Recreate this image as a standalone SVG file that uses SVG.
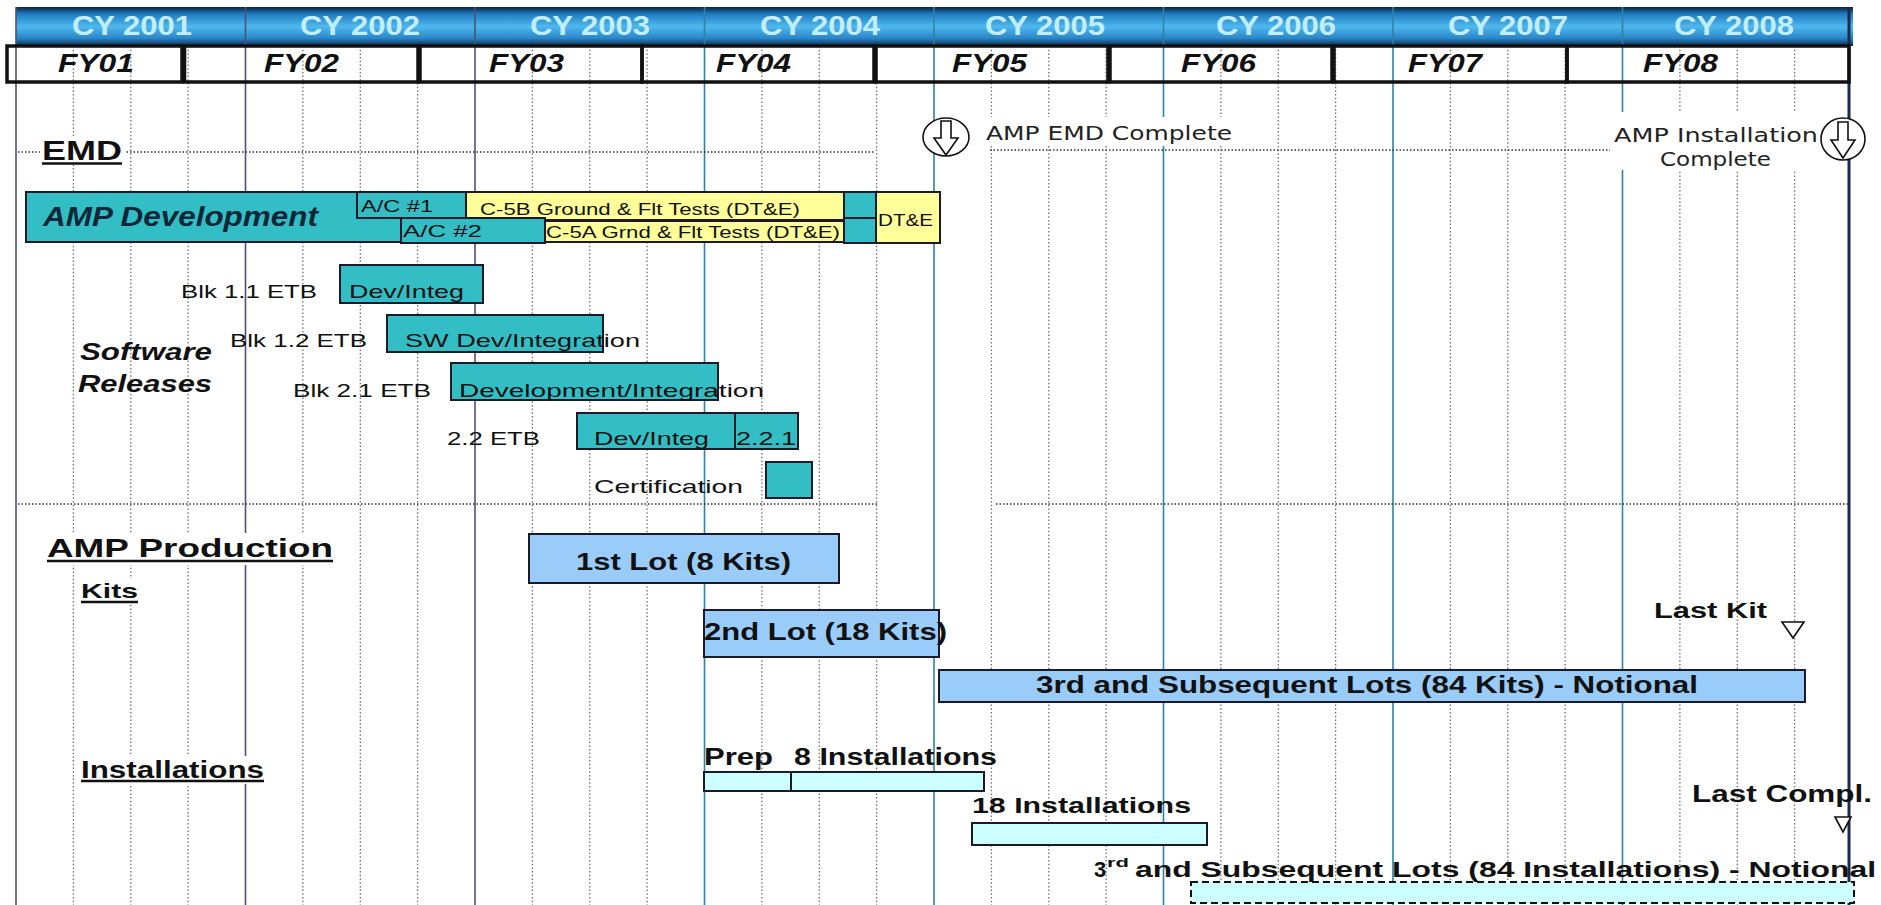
<svg xmlns="http://www.w3.org/2000/svg" width="1881" height="905" viewBox="0 0 1881 905">
<defs>
<linearGradient id="hdr" x1="0" y1="0" x2="0" y2="1">
<stop offset="0" stop-color="#0a2440"/>
<stop offset="0.18" stop-color="#1f7cc0"/>
<stop offset="0.5" stop-color="#4fb8ee"/>
<stop offset="0.8" stop-color="#2a86c8"/>
<stop offset="1" stop-color="#0b2a4e"/>
</linearGradient>
<style>
.cy{font-family:"Liberation Sans",Arial,sans-serif;font-weight:bold;font-size:28px;fill:#c2eefc;text-anchor:middle}
.fy{font-family:"Liberation Sans",Arial,sans-serif;font-weight:bold;font-style:italic;font-size:26px;fill:#111}
.fybox{fill:none;stroke:#111;stroke-width:3.5}
.solA{stroke:#4e5274;stroke-width:1.6}
.solB{stroke:#2a84a6;stroke-width:1.6}
.dot{stroke:#707070;stroke-width:1.3;stroke-dasharray:1.5 2.2}
.hdot{stroke:#333;stroke-width:1.3;stroke-dasharray:1.5 2}
.teal{fill:#33bec5;stroke:#1a1a2a;stroke-width:2}
.yel{fill:#ffff99;stroke:#1a1a2a;stroke-width:2}
.lot{fill:#99ccf8;stroke:#1a1a2a;stroke-width:2}
.ins{fill:#ccffff;stroke:#1a1a2a;stroke-width:2}
.t{font-family:"Liberation Sans",Arial,sans-serif;fill:#111}
.b{font-weight:bold}
.i{font-style:italic}
.ul{stroke:#111;stroke-width:2.5}
.ms{font-family:"DejaVu Sans","Liberation Sans",sans-serif;font-size:19px;fill:#222}
.icon{fill:#fff;stroke:#111;stroke-width:1.6}
.wbg{fill:#fff}
</style>
</defs>
<rect x="0" y="0" width="1881" height="905" fill="#fff"/>

<g id="header">
<rect x="16" y="7" width="1837" height="39" fill="url(#hdr)"/>
</g>

<g id="grid">
<line class="solA" x1="16" y1="7" x2="16" y2="905"/>
<line class="solA" x1="245.5" y1="7" x2="245.5" y2="905"/>
<line class="solA" x1="475" y1="7" x2="475" y2="905"/>
<line class="solB" x1="704.5" y1="7" x2="704.5" y2="905"/>
<line class="solB" x1="934" y1="7" x2="934" y2="905"/>
<line class="solB" x1="1163.5" y1="7" x2="1163.5" y2="905"/>
<line class="solB" x1="1393" y1="7" x2="1393" y2="905"/>
<line class="solB" x1="1622.5" y1="7" x2="1622.5" y2="905"/>
<line stroke="#1a2a50" stroke-width="3" x1="1849" y1="7" x2="1849" y2="905"/>
<g class="dot">
<line x1="73.4" y1="46" x2="73.4" y2="905"/><line x1="130.8" y1="46" x2="130.8" y2="905"/><line x1="188.1" y1="46" x2="188.1" y2="905"/>
<line x1="302.9" y1="46" x2="302.9" y2="905"/><line x1="360.3" y1="46" x2="360.3" y2="905"/><line x1="417.6" y1="46" x2="417.6" y2="905"/>
<line x1="532.4" y1="46" x2="532.4" y2="905"/><line x1="589.8" y1="46" x2="589.8" y2="905"/><line x1="647.1" y1="46" x2="647.1" y2="905"/>
<line x1="761.9" y1="46" x2="761.9" y2="905"/><line x1="819.3" y1="46" x2="819.3" y2="905"/><line x1="876.6" y1="46" x2="876.6" y2="905"/>
<line x1="991.4" y1="46" x2="991.4" y2="905"/><line x1="1048.8" y1="46" x2="1048.8" y2="905"/><line x1="1106.1" y1="46" x2="1106.1" y2="905"/>
<line x1="1220.9" y1="46" x2="1220.9" y2="905"/><line x1="1278.3" y1="46" x2="1278.3" y2="905"/><line x1="1335.6" y1="46" x2="1335.6" y2="905"/>
<line x1="1450.4" y1="46" x2="1450.4" y2="905"/><line x1="1507.8" y1="46" x2="1507.8" y2="905"/><line x1="1565.1" y1="46" x2="1565.1" y2="905"/>
<line x1="1679.9" y1="46" x2="1679.9" y2="905"/><line x1="1737.3" y1="46" x2="1737.3" y2="905"/><line x1="1794.6" y1="46" x2="1794.6" y2="905"/>
</g>
<g class="hdot">
<line x1="18" y1="152" x2="875" y2="152"/>
<line x1="990" y1="150" x2="1610" y2="150"/>
<line x1="18" y1="504" x2="878" y2="504"/>
<line x1="996" y1="504" x2="1848" y2="504"/>
</g>
</g>

<g id="cy-labels">
<text class="cy" x="132" y="35" textLength="120" lengthAdjust="spacingAndGlyphs">CY 2001</text>
<text class="cy" x="360" y="35" textLength="120" lengthAdjust="spacingAndGlyphs">CY 2002</text>
<text class="cy" x="590" y="35" textLength="120" lengthAdjust="spacingAndGlyphs">CY 2003</text>
<text class="cy" x="820" y="35" textLength="120" lengthAdjust="spacingAndGlyphs">CY 2004</text>
<text class="cy" x="1045" y="35" textLength="120" lengthAdjust="spacingAndGlyphs">CY 2005</text>
<text class="cy" x="1276" y="35" textLength="120" lengthAdjust="spacingAndGlyphs">CY 2006</text>
<text class="cy" x="1508" y="35" textLength="120" lengthAdjust="spacingAndGlyphs">CY 2007</text>
<text class="cy" x="1734" y="35" textLength="120" lengthAdjust="spacingAndGlyphs">CY 2008</text>
</g>

<g id="fy-row">
<rect class="fybox" x="7" y="46" width="175" height="36"/>
<rect class="fybox" x="184.5" y="46" width="233.5" height="36"/>
<rect class="fybox" x="420" y="46" width="222" height="36"/>
<rect class="fybox" x="642" y="46" width="232" height="36"/>
<rect class="fybox" x="876" y="46" width="232" height="36"/>
<rect class="fybox" x="1110" y="46" width="222" height="36"/>
<rect class="fybox" x="1334" y="46" width="233" height="36"/>
<rect class="fybox" x="1567" y="46" width="282" height="36"/>
<text class="fy" x="58" y="72" textLength="76" lengthAdjust="spacingAndGlyphs">FY01</text>
<text class="fy" x="264" y="72" textLength="75" lengthAdjust="spacingAndGlyphs">FY02</text>
<text class="fy" x="489" y="72" textLength="75" lengthAdjust="spacingAndGlyphs">FY03</text>
<text class="fy" x="716" y="72" textLength="75" lengthAdjust="spacingAndGlyphs">FY04</text>
<text class="fy" x="952" y="72" textLength="75" lengthAdjust="spacingAndGlyphs">FY05</text>
<text class="fy" x="1181" y="72" textLength="75" lengthAdjust="spacingAndGlyphs">FY06</text>
<text class="fy" x="1408" y="72" textLength="74" lengthAdjust="spacingAndGlyphs">FY07</text>
<text class="fy" x="1643" y="72" textLength="75" lengthAdjust="spacingAndGlyphs">FY08</text>
</g>

<g id="emd-label">
<rect class="wbg" x="40" y="136" width="85" height="29"/>
<text class="t b" x="42" y="160" font-size="28" textLength="80" lengthAdjust="spacingAndGlyphs">EMD</text>
<line class="ul" x1="42" y1="163.5" x2="122" y2="163.5"/>
</g>

<g id="ms-emd">
<rect class="wbg" x="982" y="117" width="256" height="29"/>
<ellipse class="icon" cx="946" cy="137" rx="23" ry="19"/>
<path class="icon" d="M941,121 L951,121 L951,138 L958,138 L946,155 L934,138 L941,138 Z"/>
<text class="ms" x="986" y="140" textLength="246" lengthAdjust="spacingAndGlyphs">AMP EMD Complete</text>
</g>

<g id="ms-install">
<rect class="wbg" x="1610" y="112" width="210" height="58"/>
<ellipse class="icon" cx="1843" cy="139" rx="22" ry="21"/>
<path class="icon" d="M1838,122 L1848,122 L1848,140 L1855,140 L1843,158 L1831,140 L1838,140 Z"/>
<text class="ms" x="1614" y="142" textLength="204" lengthAdjust="spacingAndGlyphs">AMP Installation</text>
<text class="ms" x="1660" y="166" textLength="111" lengthAdjust="spacingAndGlyphs">Complete</text>
</g>

<g id="amp-development">
<rect class="teal" x="26" y="192" width="850" height="50"/>
<text class="t b i" x="43" y="226" font-size="27" fill="#0c2838" textLength="275" lengthAdjust="spacingAndGlyphs" style="fill:#0c2838">AMP Development</text>
</g>
<g id="ac1">
<rect class="teal" x="357" y="192" width="109" height="26"/>
<text class="t" x="361" y="212" font-size="17" textLength="72" lengthAdjust="spacingAndGlyphs">A/C #1</text>
</g>
<g id="c5b-tests">
<rect class="yel" x="466" y="192" width="378" height="28"/>
<text class="t" x="480" y="215" font-size="17" textLength="320" lengthAdjust="spacingAndGlyphs">C-5B Ground &amp; Flt Tests (DT&amp;E)</text>
</g>
<g id="ac2">
<rect class="teal" x="401" y="218" width="144" height="25"/>
<text class="t" x="403" y="237" font-size="17" textLength="79" lengthAdjust="spacingAndGlyphs">A/C #2</text>
</g>
<g id="c5a-tests">
<rect class="yel" x="545" y="221" width="299" height="21"/>
<text class="t" x="546" y="238" font-size="16" textLength="294" lengthAdjust="spacingAndGlyphs">C-5A Grnd &amp; Flt Tests (DT&amp;E)</text>
</g>
<g id="teal-gap">
<rect class="teal" x="844" y="192" width="32" height="26"/>
<rect class="teal" x="844" y="218" width="32" height="25"/>
<line stroke="#1a1a2a" stroke-width="2" x1="844" y1="243" x2="891" y2="243"/>
</g>
<g id="dte">
<rect class="yel" x="876" y="192" width="64" height="51"/>
<text class="t" x="878" y="226" font-size="16" textLength="55" lengthAdjust="spacingAndGlyphs">DT&amp;E</text>
</g>

<g id="software-label">
<text class="t b i" x="80" y="360" font-size="24" textLength="132" lengthAdjust="spacingAndGlyphs">Software</text>
<text class="t b i" x="78" y="392" font-size="24" textLength="134" lengthAdjust="spacingAndGlyphs">Releases</text>
</g>
<g id="blk11">
<text class="t" x="181" y="298" font-size="19" textLength="136" lengthAdjust="spacingAndGlyphs">Blk 1.1 ETB</text>
<rect class="teal" x="340" y="265" width="143" height="38"/>
<text class="t" x="349" y="298" font-size="19" textLength="115" lengthAdjust="spacingAndGlyphs">Dev/Integ</text>
</g>
<g id="blk12">
<text class="t" x="230" y="347" font-size="19" textLength="137" lengthAdjust="spacingAndGlyphs">Blk 1.2 ETB</text>
<rect class="teal" x="387" y="315" width="216" height="37"/>
<text class="t" x="405" y="347" font-size="19" textLength="235" lengthAdjust="spacingAndGlyphs">SW Dev/Integration</text>
</g>
<g id="blk21">
<text class="t" x="293" y="397" font-size="19" textLength="138" lengthAdjust="spacingAndGlyphs">Blk 2.1 ETB</text>
<rect class="teal" x="451" y="363" width="267" height="37"/>
<text class="t" x="459" y="397" font-size="19" textLength="305" lengthAdjust="spacingAndGlyphs">Development/Integration</text>
</g>
<g id="etb22">
<text class="t" x="447" y="445" font-size="19" textLength="93" lengthAdjust="spacingAndGlyphs">2.2 ETB</text>
<rect class="teal" x="577" y="413" width="158" height="36"/>
<text class="t" x="594" y="445" font-size="19" textLength="115" lengthAdjust="spacingAndGlyphs">Dev/Integ</text>
<rect class="teal" x="735" y="413" width="63" height="36"/>
<text class="t" x="736" y="445" font-size="19" textLength="60" lengthAdjust="spacingAndGlyphs">2.2.1</text>
</g>
<g id="certification">
<text class="t" x="594" y="493" font-size="19" textLength="149" lengthAdjust="spacingAndGlyphs">Certification</text>
<rect class="teal" x="766" y="462" width="46" height="36"/>
</g>

<g id="production-label">
<rect class="wbg" x="45" y="533" width="292" height="32"/>
<text class="t b" x="47" y="557" font-size="26" textLength="286" lengthAdjust="spacingAndGlyphs">AMP Production</text>
<line class="ul" x1="47" y1="561" x2="333" y2="561"/>
<rect class="wbg" x="79" y="579" width="62" height="26"/>
<text class="t b" x="81" y="598" font-size="21" textLength="57" lengthAdjust="spacingAndGlyphs">Kits</text>
<line class="ul" x1="81" y1="602" x2="138" y2="602"/>
</g>
<g id="lot1">
<rect class="lot" x="529" y="534" width="310" height="49"/>
<text class="t b" x="576" y="570" font-size="24" textLength="215" lengthAdjust="spacingAndGlyphs">1st Lot (8 Kits)</text>
</g>
<g id="lot2">
<rect class="lot" x="704" y="610" width="235" height="47"/>
<text class="t b" x="704" y="640" font-size="24" textLength="243" lengthAdjust="spacingAndGlyphs">2nd Lot (18 Kits)</text>
</g>
<g id="last-kit">
<text class="t b" x="1654" y="618" font-size="22" textLength="113" lengthAdjust="spacingAndGlyphs">Last Kit</text>
<path class="icon" d="M1782,622 L1804,622 L1793,638 Z"/>
</g>
<g id="lot3">
<rect class="lot" x="939" y="670" width="866" height="32"/>
<text class="t b" x="1036" y="693" font-size="24" textLength="662" lengthAdjust="spacingAndGlyphs">3rd and Subsequent Lots (84 Kits) - Notional</text>
</g>

<g id="installations-label">
<rect class="wbg" x="79" y="756" width="188" height="28"/>
<text class="t b" x="81" y="778" font-size="23" textLength="183" lengthAdjust="spacingAndGlyphs">Installations</text>
<line class="ul" x1="81" y1="781" x2="264" y2="781"/>
</g>
<g id="inst-prep">
<text class="t b" x="704" y="765" font-size="24" textLength="69" lengthAdjust="spacingAndGlyphs">Prep</text>
<rect class="ins" x="704" y="772" width="87" height="19"/>
</g>
<g id="inst-8">
<text class="t b" x="794" y="765" font-size="24" textLength="203" lengthAdjust="spacingAndGlyphs">8 Installations</text>
<rect class="ins" x="791" y="772" width="193" height="19"/>
</g>
<g id="inst-18">
<text class="t b" x="972" y="813" font-size="22" textLength="219" lengthAdjust="spacingAndGlyphs">18 Installations</text>
<rect class="ins" x="972" y="823" width="235" height="22"/>
</g>
<g id="last-compl">
<text class="t b" x="1692" y="802" font-size="23" textLength="180" lengthAdjust="spacingAndGlyphs">Last Compl.</text>
<path class="icon" d="M1835,817 L1851,817 L1843,832 Z"/>
</g>
<g id="inst-3rd">
<text class="t b" x="1094" y="877" font-size="22">3</text>
<text class="t b" x="1107" y="867" font-size="13" textLength="22" lengthAdjust="spacingAndGlyphs">rd</text>
<text class="t b" x="1135" y="877" font-size="22" textLength="741" lengthAdjust="spacingAndGlyphs">and Subsequent Lots (84 Installations) - Notional</text>
<rect x="1191" y="882" width="663" height="21" fill="#ccffff" stroke="#111" stroke-width="2" stroke-dasharray="7 4"/>
</g>

<g id="connectors"></g>
</svg>
